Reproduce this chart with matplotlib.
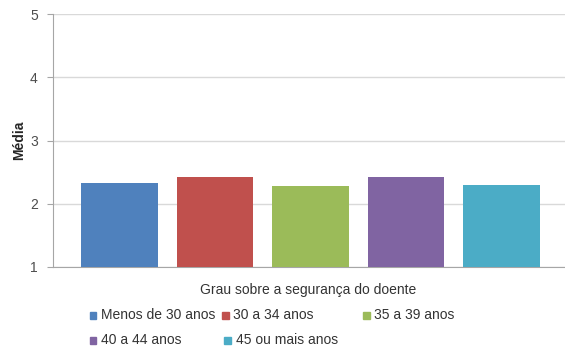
import matplotlib.pyplot as plt
from matplotlib.patches import Rectangle

plt.rcParams['font.family'] = ['Liberation Sans', 'DejaVu Sans']

# data
groups = ['Menos de 30 anos', '30 a 34 anos', '35 a 39 anos', '40 a 44 anos', '45 ou mais anos']
medias = [2.33, 2.43, 2.28, 2.42, 2.30]
colors = ['#4F81BD', '#C0504D', '#9BBB59', '#8064A2', '#4BACC6']
yticks = [1, 2, 3, 4, 5]

W, H = 565, 351
fig = plt.figure(figsize=(W / 100, H / 100), dpi=100)
ax = fig.add_axes([53 / W, 1 - 267 / H, 1 - 53 / W, (267 - 14) / H])

x = list(range(len(groups)))
ax.bar(x, [m - 1 for m in medias], bottom=1, width=0.80, color=colors, zorder=3)

ax.set_ylim(1, 5)
ax.set_xlim(-0.696, 4.663)
ax.set_yticks(yticks)
ax.set_xticks([])
ax.grid(axis='y', color='#D9D9D9', linewidth=1, zorder=0)
for s in ['top', 'right']:
    ax.spines[s].set_visible(False)
for s in ['left', 'bottom']:
    ax.spines[s].set_color('#A6A6A6')
ax.tick_params(axis='y', length=4, color='#A6A6A6', labelsize=10, labelcolor='#4D4D4D', pad=7)
ax.set_ylabel('Média', fontsize=10, fontweight='bold', labelpad=3, color='#262626')

fig.text(308 / W, 1 - 290 / H, 'Grau sobre a segurança do doente', ha='center', va='center',
         fontsize=10, color='#333333')

# legend, placed like the original (Excel-style flow)
leg_pos = [(93, 315), (225, 315), (366, 315), (93, 340), (228, 340)]
for (px, py), g, c in zip(leg_pos, groups, colors):
    fig.patches.append(Rectangle(((px - 3.5) / W, 1 - (py + 3.5) / H), 7 / W, 7 / H,
                                 transform=fig.transFigure, color=c))
    fig.text((px + 8) / W, 1 - py / H, g, ha='left', va='center', fontsize=10, color='#333333')

fig.savefig('out.png', dpi=100)
